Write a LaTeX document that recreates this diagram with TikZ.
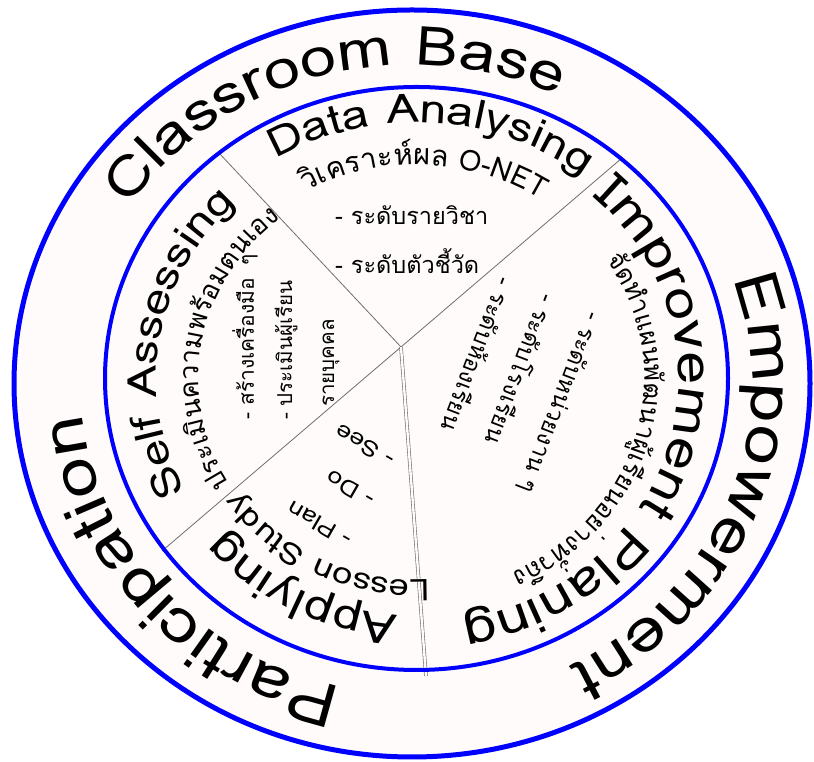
\documentclass[tikz,border=0pt]{standalone}
\usepackage{fontspec}
\setmainfont[Script=Thai]{Loma}
\newfontfamily\latinwide[FakeStretch=1.2]{Loma}
\usetikzlibrary{decorations.text}
\definecolor{ringfill}{RGB}{255,251,251}
\definecolor{ringblue}{RGB}{0,0,255}
\definecolor{divgray}{RGB}{110,110,110}
\tikzset{
  ringline/.style={draw=ringblue, fill=ringfill},
  divline/.style={draw=divgray, line width=0.8pt},
  divdouble/.style={draw=divgray, line width=0.6pt, double=ringfill, double distance=2.4pt},
  flat/.style={inner sep=0pt, anchor=west, font=\fontsize{#1}{#1}\selectfont},
  flatlatin/.style={inner sep=0pt, anchor=west, font=\latinwide\fontsize{#1}{#1}\selectfont},
}
\newcommand{\arctext}[6]{%
  \path[decorate, decoration={text along path, text align=center, text={#6}}]
    (#1) ++(#4:#2 and #3) arc[start angle=#4, end angle=#5, x radius=#2, y radius=#3];
}
\begin{document}
\begin{tikzpicture}[x=1pt,y=1pt]
\useasboundingbox (0,0) rectangle (814,762);
\coordinate (O1) at (412,378.5);
\coordinate (O2) at (416.5,383.5);
\path[ringline, line width=5pt] (O1) ellipse [x radius=398, y radius=373.5];
\path[fill=ringfill] (O2) ellipse [x radius=311.5, y radius=291.5];
% dividers
\coordinate (J) at (401,415);
\coordinate (UL) at (219,609);
\coordinate (UR) at (622,604);
\coordinate (LL) at (162,211);
\coordinate (BT) at (426,86);
\draw[divline] (J) -- (UL);
\draw[divline] (J) -- (UR);
\draw[divline] (J) -- (LL);
\draw[divdouble] (J) -- (BT);
\draw[draw=ringblue, line width=4pt] (O2) ellipse [x radius=311.5, y radius=291.5];
% outer ring texts
\arctext{O1}{340}{318.6}{187}{25}{|\latinwide\fontsize{54}{54}\selectfont|Classroom Base}
\arctext{O1}{340}{318.6}{61}{-103}{|\latinwide\fontsize{60}{60}\selectfont|Empowerment}
\arctext{O1}{331}{310.2}{300}{141}{|\latinwide\fontsize{61}{61}\selectfont|Participation}
% sector: Data Analysing
\arctext{O2}{273}{255.8}{156}{17}{|\latinwide\fontsize{40}{40}\selectfont|Data Analysing}
\arctext{O2}{228}{213.6}{150}{26}{|\fontsize{29}{29}\selectfont|{วิ}เคราะ{ห์}ผล O-NET}
\node[flat=23.5] (d1) at (335,547) {- ระดับรายวิชา};
\node[flat=23.5] (d2) at (335,501) {- ระดับตัวชี้วัด};
% sector: Self Assessing
\arctext{O2}{260}{243.6}{241}{101}{|\latinwide\fontsize{40}{40}\selectfont|Self Assessing}
\arctext{O2}{218}{204.3}{235}{105}{|\fontsize{27}{27}\selectfont|ประเ{มิ}นความพ{ร้}อมตนเอง}
\node[flat=21, rotate=90] (s1) at (245,342) {- สร้างเครื่องมือ\hspace{0.6em}ๆ};
\node[flat=20.5, rotate=90] (s2) at (286,342) {- ประเมินผู้เรียน};
\node[flat=20.5, rotate=90] (s3) at (331,355) {รายบุคคล};
% sector: Applying Lesson Study
\arctext{O2}{253}{237}{303}{181}{|\latinwide\fontsize{43}{43}\selectfont|Applying}
\arctext{O2}{215}{201.5}{305}{181}{|\latinwide\fontsize{30}{30}\selectfont|Lesson Study}
\node[flatlatin=22, rotate=150] (p1) at (350,220) {- Plan};
\node[flatlatin=22, rotate=150] (p2) at (373,260) {- Do};
\node[flatlatin=22, rotate=150] (p3) at (393,300) {- See};
% sector: Improvement Planing
\arctext{O2}{262}{245.5}{70}{-102}{|\latinwide\fontsize{49}{49}\selectfont|Improvement Planing}
\arctext{O2}{228}{213.6}{48}{-79}{|\fontsize{26}{26}\selectfont|{จั}ด{ทำ}แผน{พั}ฒนา{ผู้}เ{รี}ยนอย่าง{ทั่}วถึง}
\node[flat=23.5, rotate=249] (r1) at (508,483) {- ระดับห้องเรียน};
\node[flat=23.5, rotate=249] (r2) at (551,466) {- ระดับโรงเรียน};
\node[flat=23.5, rotate=249] (r3) at (594,449) {- ระดับหน่วยงาน ๆ};
\end{tikzpicture}
\end{document}
